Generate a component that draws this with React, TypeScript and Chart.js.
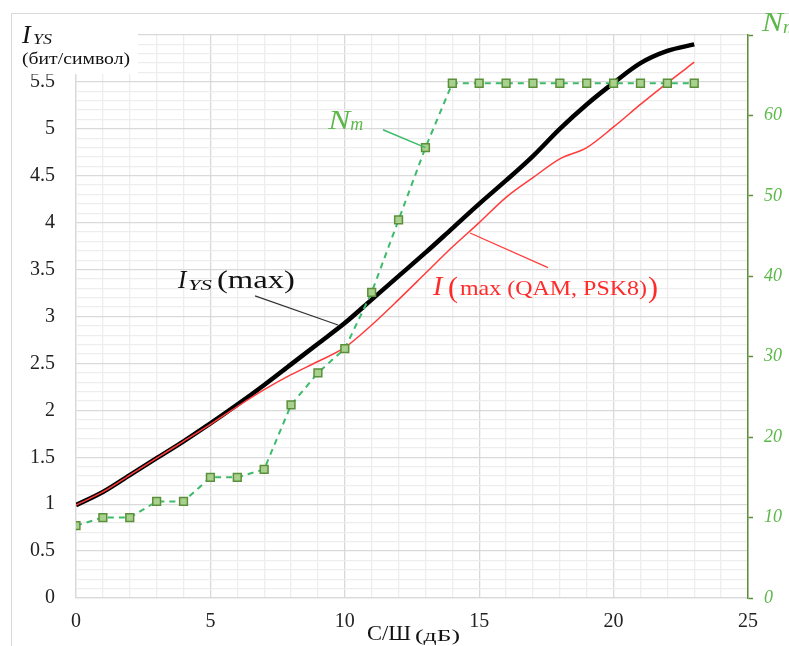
import { useEffect, useRef } from 'react';
import { Chart, registerables } from 'chart.js';

Chart.register(...registerables);

// ---- data ----
const snrDb = [0, 1, 2, 3, 4, 5, 6, 7, 8, 9, 10, 11, 12, 13, 14, 15, 16, 17, 18, 19, 20, 21, 22, 23];
const iysMax = [0.99, 1.13, 1.31, 1.49, 1.67, 1.86, 2.06, 2.27, 2.49, 2.71, 2.93, 3.18, 3.43, 3.68, 3.94, 4.2, 4.45, 4.71, 5.0, 5.26, 5.49, 5.7, 5.83, 5.9];
const iQamPsk = [0.99, 1.13, 1.31, 1.49, 1.67, 1.85, 2.04, 2.22, 2.38, 2.52, 2.67, 2.91, 3.18, 3.46, 3.74, 4.0, 4.27, 4.48, 4.68, 4.8, 5.02, 5.26, 5.49, 5.71];
const nm = [9, 10, 10, 12, 12, 15, 15, 16, 24, 28, 31, 38, 47, 56, 64, 64, 64, 64, 64, 64, 64, 64, 64, 64];

const xMin = 0, xMax = 25, xLabelStep = 5;
const yMin = 0, yMax = 6;
const y2Min = 0, y2Max = 70, y2Step = 10;

const SERIF = '"Liberation Serif", "DejaVu Serif", serif';
const GRID_MAJOR = '#d9d9d9';
const GRID_MINOR = '#ededed';
const GREEN_AXIS = '#5b8f3a';
const GREEN_TEXT = '#5cb84a';
const GREEN_LINE = '#3dbb6a';

const annotations = {
  nm: { x: 9.38, y: 5.0, lineFrom: { x: 11.42, y: 4.99 }, toIndex: 13 },
  iys: { x: 3.79, y: 3.3, lineFrom: { x: 6.66, y: 3.22 }, lineTo: { x: 9.75, y: 2.91 } },
  iq: { x: 13.28, y: 3.23, lineFrom: { x: 14.66, y: 3.89 }, lineTo: { x: 17.56, y: 3.52 } },
};

function textW(ctx: CanvasRenderingContext2D, text: string, x: number, y: number, font: string, w?: number) {
  ctx.font = font;
  const m = ctx.measureText(text).width;
  if (!w) {
    ctx.fillText(text, x, y);
    return x + m;
  }
  ctx.save();
  ctx.translate(x, y);
  ctx.scale(w / m, 1);
  ctx.fillText(text, 0, 0);
  ctx.restore();
  return x + w;
}

const overlayPlugin = {
  id: 'overlay',
  afterDraw(chart: any) {
    const ctx: CanvasRenderingContext2D = chart.ctx;
    const xs = chart.scales.x, ys = chart.scales.y, y2 = chart.scales.y2;
    ctx.save();
    // white box behind left title
    ctx.fillStyle = '#ffffff';
    ctx.fillRect(12, 14, 126, 60);
    // outer frame
    ctx.strokeStyle = '#d9d9d9';
    ctx.lineWidth = 1;
    ctx.strokeRect(11.5, 13.5, 900, 900);

    ctx.textBaseline = 'alphabetic';
    ctx.textAlign = 'left';
    // left title
    ctx.fillStyle = '#111';
    textW(ctx, 'I', 22, 43, `italic 26px ${SERIF}`);
    textW(ctx, 'YS', 33, 44, `italic 15px ${SERIF}`, 19);
    textW(ctx, '(бит/символ)', 22, 64, `17px ${SERIF}`, 108);

    // right title
    ctx.fillStyle = GREEN_TEXT;
    textW(ctx, 'N', 762, 31, `italic 28px ${SERIF}`, 21);
    textW(ctx, 'm', 783, 33, `italic 18px ${SERIF}`, 14);

    // x title
    ctx.fillStyle = '#111';
    textW(ctx, 'С/Ш', 367, 640, `22px ${SERIF}`, 44);
    textW(ctx, '(дБ)', 415, 641, `17px ${SERIF}`, 45);

    // Nm annotation
    const a = annotations.nm;
    const ax = xs.getPixelForValue(a.x), ay = ys.getPixelForValue(a.y);
    ctx.fillStyle = GREEN_TEXT;
    textW(ctx, 'N', ax, ay, `italic 27px ${SERIF}`, 22);
    textW(ctx, 'm', ax + 22, ay + 1, `italic 18px ${SERIF}`, 13);
    ctx.strokeStyle = GREEN_LINE;
    ctx.lineWidth = 1.5;
    ctx.beginPath();
    ctx.moveTo(xs.getPixelForValue(a.lineFrom.x), ys.getPixelForValue(a.lineFrom.y));
    ctx.lineTo(xs.getPixelForValue(snrDb[a.toIndex]), y2.getPixelForValue(nm[a.toIndex]));
    ctx.stroke();

    // Iys annotation
    const b = annotations.iys;
    const bx = xs.getPixelForValue(b.x), by = ys.getPixelForValue(b.y);
    ctx.fillStyle = '#111';
    textW(ctx, 'I', bx, by, `italic 25px ${SERIF}`);
    textW(ctx, 'YS', bx + 10, by + 2, `italic 15px ${SERIF}`, 24);
    textW(ctx, '(max)', bx + 39, by, `26px ${SERIF}`, 78);
    ctx.strokeStyle = '#333';
    ctx.lineWidth = 1.2;
    ctx.beginPath();
    ctx.moveTo(xs.getPixelForValue(b.lineFrom.x), ys.getPixelForValue(b.lineFrom.y));
    ctx.lineTo(xs.getPixelForValue(b.lineTo.x), ys.getPixelForValue(b.lineTo.y));
    ctx.stroke();

    // I(max(QAM,PSK8)) annotation
    const c = annotations.iq;
    const cx = xs.getPixelForValue(c.x), cy = ys.getPixelForValue(c.y);
    ctx.fillStyle = '#ff2a2a';
    textW(ctx, 'I', cx, cy, `italic 28px ${SERIF}`);
    textW(ctx, '(', cx + 15, cy + 2, `30px ${SERIF}`);
    textW(ctx, 'max (QAM, PSK8)', cx + 27, cy, `21px ${SERIF}`, 187);
    textW(ctx, ')', cx + 215, cy + 2, `30px ${SERIF}`);
    ctx.strokeStyle = '#ff3b3b';
    ctx.lineWidth = 1.3;
    ctx.beginPath();
    ctx.moveTo(xs.getPixelForValue(c.lineFrom.x), ys.getPixelForValue(c.lineFrom.y));
    ctx.lineTo(xs.getPixelForValue(c.lineTo.x), ys.getPixelForValue(c.lineTo.y));
    ctx.stroke();

    ctx.restore();
  },
};

export default function App() {
  const ref = useRef<HTMLCanvasElement | null>(null);
  useEffect(() => {
    if (!ref.current) return;
    const toXY = (vals: number[]) => snrDb.map((x, i) => ({ x, y: vals[i] }));
    const chart = new Chart(ref.current, {
      type: 'line',
      data: {
        datasets: [
          {
            label: 'Nm',
            data: toXY(nm),
            yAxisID: 'y2',
            borderColor: GREEN_LINE,
            borderWidth: 2,
            borderDash: [6, 5],
            pointStyle: 'rect',
            pointRadius: 5.5,
            pointBackgroundColor: '#a9d18e',
            pointBorderColor: GREEN_AXIS,
            pointBorderWidth: 1.5,
            tension: 0,
            order: 0,
          },
          {
            label: 'I(max(QAM,PSK8))',
            data: toXY(iQamPsk),
            yAxisID: 'y',
            borderColor: '#ff3b3b',
            borderWidth: 1.5,
            pointRadius: 0,
            cubicInterpolationMode: 'monotone',
            order: 1,
          },
          {
            label: 'IYS(max)',
            data: toXY(iysMax),
            yAxisID: 'y',
            borderColor: '#000000',
            borderWidth: 4.5,
            pointRadius: 0,
            cubicInterpolationMode: 'monotone',
            order: 2,
          },
        ],
      },
      options: {
        responsive: false,
        animation: false,
        layout: { padding: { left: 0, right: 0, top: 35, bottom: 0 } },
        plugins: { legend: { display: false }, tooltip: { enabled: false } },
        scales: {
          x: {
            type: 'linear',
            min: xMin,
            max: xMax,
            afterFit: (s: any) => { s.height = 48; },
            ticks: {
              stepSize: 1,
              autoSkip: false,
              maxRotation: 0,
              padding: 12,
              color: '#222',
              font: { family: SERIF, size: 20 },
              callback: (v: any) => (Math.round(v) % xLabelStep === 0 ? String(v) : ''),
            },
            grid: {
              drawTicks: false,
              color: (c: any) => (Math.round(c.tick.value) % xLabelStep === 0 ? GRID_MAJOR : GRID_MINOR),
              lineWidth: 1.3,
            },
            border: { color: GRID_MAJOR, width: 1.3 },
          },
          y: {
            position: 'left',
            min: yMin,
            max: yMax,
            afterFit: (s: any) => { s.width = 76; },
            ticks: {
              stepSize: 0.1,
              autoSkip: false,
              padding: 21,
              color: '#222',
              font: { family: SERIF, size: 20 },
              callback: (v: any) => {
                const k = Math.round(v * 10);
                return k % 5 === 0 && k < 60 ? String(k / 10) : '';
              },
            },
            grid: {
              drawTicks: false,
              color: (c: any) => (Math.round(c.tick.value * 10) % 5 === 0 ? GRID_MAJOR : GRID_MINOR),
              lineWidth: 1.3,
            },
            border: { color: GRID_MAJOR, width: 1.3 },
          },
          y2: {
            position: 'right',
            min: y2Min,
            max: y2Max,
            afterFit: (s: any) => { s.width = 41; },
            ticks: {
              stepSize: y2Step,
              padding: 11,
              color: GREEN_TEXT,
              font: { family: SERIF, size: 18, style: 'italic' },
              callback: (v: any) => (v === y2Max ? '' : String(v)),
            },
            grid: {
              drawOnChartArea: false,
              drawTicks: true,
              tickLength: 5,
              tickColor: GREEN_AXIS,
              tickWidth: 1.5,
            },
            border: { color: GREEN_AXIS, width: 1.5 },
          },
        },
      },
      plugins: [overlayPlugin],
    } as any);
    return () => chart.destroy();
  }, []);
  return (
    <div style={{ position: 'fixed', left: 0, top: 0, width: 789, height: 646, background: '#fff' }}>
      <canvas ref={ref} width={789} height={646} style={{ display: 'block' }} />
    </div>
  );
}
